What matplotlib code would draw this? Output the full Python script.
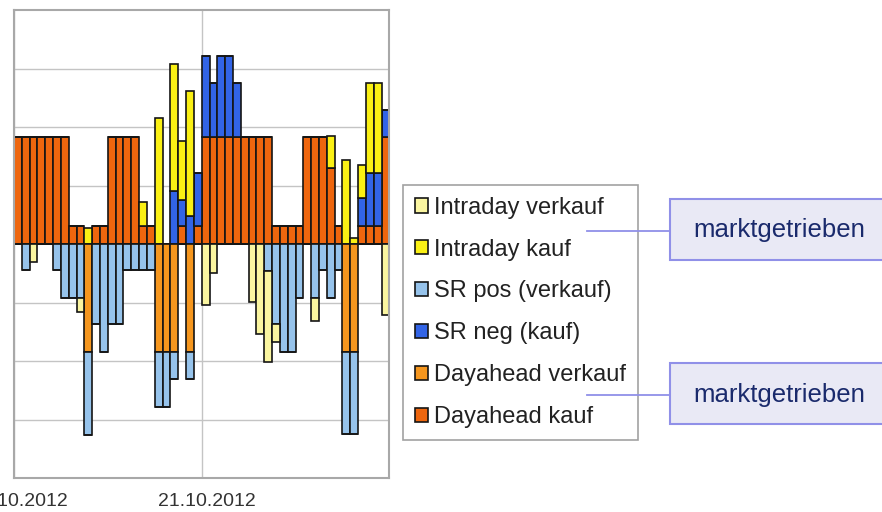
import matplotlib
matplotlib.use("Agg")
import matplotlib.pyplot as plt
import matplotlib.transforms as mtransforms
from matplotlib.patches import Rectangle
import numpy as np

plt.rcParams['font.family'] = ['Liberation Sans', 'DejaVu Sans']

# ---- data (hourly slots, index -1 is the partly cut bar at the left edge) ----
hours = list(range(-1, 48))
tick_pos = [0, 24]
tick_labels = ["20.10.2012", "21.10.2012"]

dayahead_kauf = [0,
    1.83, 1.83, 1.83, 1.83, 1.83, 1.83, 1.83, 0.30, 0.30, 0.00, 0.30, 0.30,
    1.83, 1.83, 1.83, 1.83, 0.30, 0.30, 0.00, 0.00, 0.00, 0.30, 0.00, 0.30,
    1.83, 1.83, 1.83, 1.83, 1.83, 1.83, 1.83, 1.83, 1.83, 0.30, 0.30, 0.30,
    0.30, 1.83, 1.83, 1.83, 1.30, 0.30, 0.00, 0.00, 0.30, 0.30, 0.30, 1.83]
sr_neg_kauf = [0,
    0, 0, 0, 0, 0, 0, 0, 0, 0, 0, 0, 0,
    0, 0, 0, 0, 0, 0, 0, 0, 0.91, 0.46, 0.48, 0.92,
    1.39, 0.92, 1.39, 1.39, 0.92, 0, 0, 0, 0, 0, 0, 0,
    0, 0, 0, 0, 0, 0, 0, 0, 0.49, 0.91, 0.91, 0.46]
intraday_kauf = [0,
    0, 0, 0, 0, 0, 0, 0, 0, 0, 0.28, 0, 0,
    0, 0, 0, 0, 0.42, 0, 2.16, 0, 2.16, 1.00, 2.14, 0,
    0, 0, 0, 0, 0, 0, 0, 0, 0, 0, 0, 0,
    0, 0, 0, 0, 0.54, 0, 1.44, 0.10, 0.56, 1.55, 1.55, 0]
dayahead_verkauf = [0,
    0, 0, 0, 0, 0, 0, 0, 0, 0, -1.84, 0, 0,
    0, 0, 0, 0, 0, 0, -1.84, -1.84, -1.84, 0, -1.84, 0,
    0, 0, 0, 0, 0, 0, 0, 0, 0, 0, 0, 0,
    0, 0, 0, 0, 0, 0, -1.84, -1.84, 0, 0, 0, 0]
sr_pos_verkauf = [-1.23,
    0, -0.45, 0, 0, 0, -0.45, -0.93, -0.93, -0.93, -1.42, -1.37, -1.85,
    -1.37, -1.37, -0.45, -0.45, -0.45, -0.45, -0.94, -0.94, -0.47, 0, -0.47, 0,
    0, 0, 0, 0, 0, 0, 0, 0, -0.46, -1.37, -1.84, -1.84,
    -0.92, 0, -0.93, -0.45, -0.93, -0.45, -1.41, -1.41, 0, 0, 0, 0]
intraday_verkauf = [0,
    0, 0, -0.30, 0, 0, 0, 0, 0, -0.24, 0, 0, 0,
    0, 0, 0, 0, 0, 0, 0, 0, 0, 0, 0, 0,
    -1.04, -0.50, 0, 0, 0, 0, -0.99, -1.54, -1.56, -0.30, 0, 0,
    0, 0, -0.38, 0, 0, 0, 0, 0, 0, 0, 0, -1.22]

labels = ["Intraday verkauf", "Intraday kauf", "SR pos (verkauf)",
          "SR neg (kauf)", "Dayahead verkauf", "Dayahead kauf"]
colors = {"Intraday verkauf": "#FAF5A0", "Intraday kauf": "#FAF014",
          "SR pos (verkauf)": "#96C3EB", "SR neg (kauf)": "#3264E6",
          "Dayahead verkauf": "#F5961E", "Dayahead kauf": "#EE660E"}

W, H = 882, 512
fig = plt.figure(figsize=(W / 100, H / 100), dpi=100)
ax = fig.add_axes([14 / W, 1 - 478 / H, (389.4 - 14) / W, (478 - 10) / H])

x = np.array(hours, dtype=float)
edge = dict(edgecolor="#151515", linewidth=1.2, width=1.0, align="edge")

handles = {}
# positive stack
dk = np.array(dayahead_kauf); sn = np.array(sr_neg_kauf); ik = np.array(intraday_kauf)
handles["Dayahead kauf"] = ax.bar(x, dk, color=colors["Dayahead kauf"], **edge)
handles["SR neg (kauf)"] = ax.bar(x, sn, bottom=dk, color=colors["SR neg (kauf)"], **edge)
handles["Intraday kauf"] = ax.bar(x, ik, bottom=dk + sn, color=colors["Intraday kauf"], **edge)
# negative stack
dv = np.array(dayahead_verkauf); sp = np.array(sr_pos_verkauf); iv = np.array(intraday_verkauf)
handles["Dayahead verkauf"] = ax.bar(x, dv, color=colors["Dayahead verkauf"], **edge)
handles["SR pos (verkauf)"] = ax.bar(x, sp, bottom=dv, color=colors["SR pos (verkauf)"], **edge)
handles["Intraday verkauf"] = ax.bar(x, iv, bottom=dv + sp, color=colors["Intraday verkauf"], **edge)

ax.set_xlim(0, 48)
ax.set_ylim(-4, 4)
ax.set_yticks([-3, -2, -1, 1, 2, 3])
ax.set_yticklabels([])
ax.tick_params(axis="y", length=0)
ax.set_xticks(tick_pos)
ax.set_xticklabels(tick_labels, fontsize=14, color="#333333")
ax.tick_params(axis="x", length=0, pad=11)
offset = mtransforms.ScaledTranslation(5 / 100, 0, fig.dpi_scale_trans)
for lab in ax.get_xticklabels():
    lab.set_transform(lab.get_transform() + offset)
ax.set_axisbelow(True)
ax.grid(True, color="#c4c4c4", linewidth=1.0)
for s in ax.spines.values():
    s.set_color("#a8a8a8")
    s.set_linewidth(1.5)

leg = fig.legend([handles[l] for l in labels], labels,
                 loc="upper left", bbox_to_anchor=(403 / W, 1 - 185 / H),
                 bbox_transform=fig.transFigure, fontsize=17,
                 handlelength=0.55, handleheight=0.55, handletextpad=0.25,
                 labelspacing=0.84, borderpad=0.5, borderaxespad=0,
                 fancybox=False, frameon=True)
leg.get_frame().set_edgecolor("#8a8a8a")
leg.get_frame().set_linewidth(1.2)
for t in leg.get_texts():
    t.set_color("#222222")

# callout overlay in pixel coordinates
ov = fig.add_axes([0, 0, 1, 1])
ov.set_zorder(10)
ov.set_xlim(0, W)
ov.set_ylim(H, 0)
ov.axis("off")
ov.patch.set_alpha(0)
callouts = [("marktgetrieben", 198.5, 259.5, 230.7),
            ("marktgetrieben", 363, 424, 395)]
for text, y0, y1, ly in callouts:
    ov.add_patch(Rectangle((670, y0), 230, y1 - y0, facecolor="#E9E9F5",
                           edgecolor="#9090E8", linewidth=1.5))
    ov.plot([587, 670], [ly, ly], color="#9090E8", linewidth=1.3)
    ov.text(779, (y0 + y1) / 2 + 1.5, text, fontsize=18.5, color="#1A2A6C",
            ha="center", va="center")

fig.savefig("out.png", dpi=100)
